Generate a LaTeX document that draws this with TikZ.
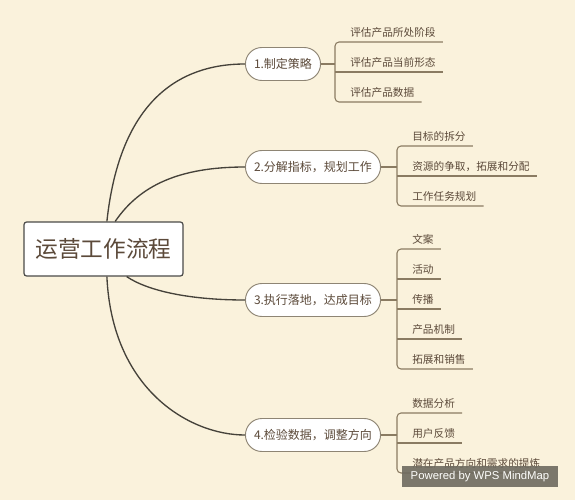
\documentclass[tikz,border=0pt]{standalone}
\usepackage{fontspec}
\setmainfont{Noto Sans CJK SC}
\newfontfamily\latinfont{Liberation Sans}
\definecolor{bgcream}{HTML}{FAF2DC}
\definecolor{inkbrown}{HTML}{5C4A3A}
\definecolor{rootline}{HTML}{4A4A48}
\definecolor{pillline}{HTML}{8E8574}
\definecolor{trunkline}{HTML}{45423A}
\definecolor{twigline}{HTML}{8A7B62}
\definecolor{badgegray}{HTML}{6E6A5F}
\begin{document}
\begin{tikzpicture}[x=0.75pt,y=-0.75pt,
  root/.style={draw=rootline,fill=white,line width=0.9pt,rounded corners=2pt,
    minimum width=119.25pt,minimum height=40.5pt,
    font=\fontsize{17}{20}\selectfont,text=inkbrown},
  topic/.style={draw=pillline,fill=white,line width=0.7pt,rounded corners=12.3pt,
    minimum height=24.75pt,inner xsep=6.4pt,anchor=west,
    font=\fontsize{9}{11}\selectfont,text=inkbrown},
  leaf/.style={anchor=south west,inner xsep=5.25pt,inner ysep=3pt,
    font=\fontsize{8}{10}\selectfont,text=inkbrown},
  trunk/.style={draw=trunkline,line width=1pt},
  twig/.style={draw=twigline,line width=0.8pt},
  wpsbadge/.style={fill=badgegray,fill opacity=0.9,text opacity=1,text=white!92!bgcream,
    minimum width=117pt,minimum height=15.75pt,inner sep=0pt,
    font=\latinfont\fontsize{8.5}{10}\selectfont}]
\fill[bgcream] (0,0) rectangle (575,500);
\useasboundingbox (0,0) rectangle (575,500);
% main topic
\node[root] (root) at (103.5,249) {运营工作流程};
% four branches
\node[topic] (s1) at (245,64) {1.制定策略};
\node[topic] (s2) at (245,167) {2.分解指标，规划工作};
\node[topic] (s3) at (245,300) {3.执行落地，达成目标};
\node[topic] (s4) at (245,435) {4.检验数据，调整方向};
\draw[trunk] (root.83) .. controls (120,100) and (180,64) .. (s1.west);
\draw[trunk] (root.67) .. controls (140,185) and (180,167) .. (s2.west);
\draw[trunk] (root.-50) .. controls (148,291) and (190,300) .. (s3.west);
\draw[trunk] (root.-83) .. controls (112,390) and (190,435) .. (s4.west);
% bracket points
\coordinate (b1) at (335,64);
\coordinate (b2) at (397,167);
\coordinate (b3) at (397,300);
\coordinate (b4) at (397,435);
% leaves of 1
\node[leaf] (l11) at (343,42) {评估产品所处阶段};
\node[leaf] (l12) at (343,72) {评估产品当前形态};
\node[leaf] (l13) at (343,102) {评估产品数据};
\draw[twig] (s1.east) -- (b1);
\draw[twig,rounded corners=3pt] (l11.south east) -- (b1 |- l11.south) -- (b1 |- l13.south) -- (l13.south east);
\draw[twig] (b1 |- l12.south) -- (l12.south east);
% leaves of 2
\node[leaf] (l21) at (405,146) {目标的拆分};
\node[leaf] (l22) at (405,176) {资源的争取，拓展和分配};
\node[leaf] (l23) at (405,206) {工作任务规划};
\draw[twig] (s2.east) -- (b2);
\draw[twig,rounded corners=3pt] (l21.south east) -- (b2 |- l21.south) -- (b2 |- l23.south) -- (l23.south east);
\draw[twig] (b2 |- l22.south) -- (l22.south east);
% leaves of 3
\node[leaf] (l31) at (405,249) {文案};
\node[leaf] (l32) at (405,279) {活动};
\node[leaf] (l33) at (405,309) {传播};
\node[leaf] (l34) at (405,339) {产品机制};
\node[leaf] (l35) at (405,369) {拓展和销售};
\draw[twig] (s3.east) -- (b3);
\draw[twig,rounded corners=3pt] (l31.south east) -- (b3 |- l31.south) -- (b3 |- l35.south) -- (l35.south east);
\draw[twig] (b3 |- l32.south) -- (l32.south east);
\draw[twig] (b3 |- l33.south) -- (l33.south east);
\draw[twig] (b3 |- l34.south) -- (l34.south east);
% leaves of 4
\node[leaf] (l41) at (405,413) {数据分析};
\node[leaf] (l42) at (405,443) {用户反馈};
\node[leaf] (l43) at (405,473) {潜在产品方向和需求的提炼};
\draw[twig] (s4.east) -- (b4);
\draw[twig,rounded corners=3pt] (l41.south east) -- (b4 |- l41.south) -- (b4 |- l43.south) -- (l43.south east);
\draw[twig] (b4 |- l42.south) -- (l42.south east);
% watermark
\node[wpsbadge] (wps) at (480,476.5) {Powered by WPS MindMap};
\end{tikzpicture}
\end{document}
